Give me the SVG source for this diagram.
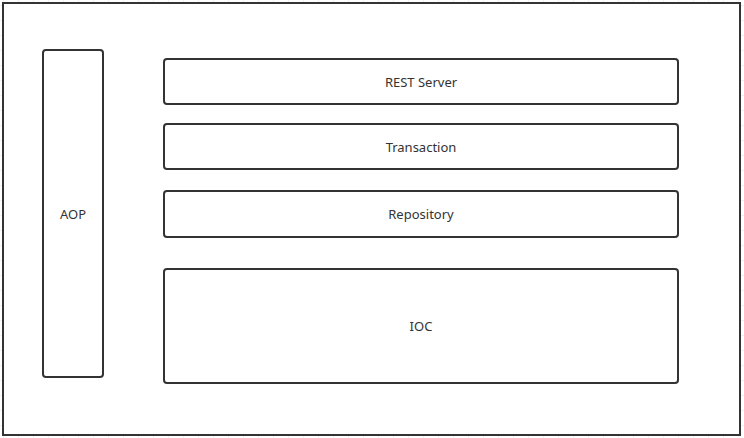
<svg xmlns="http://www.w3.org/2000/svg" width="744" height="438" viewBox="0 0 744 438">
  <defs>
    <pattern id="grid" x="3" y="5" width="15" height="15" patternUnits="userSpaceOnUse">
      <path d="M0 0 H15 M0 0 V15" fill="none" stroke="#e6e6e6" stroke-width="1"/>
    </pattern>
  </defs>
  <style>
    .box { fill: #ffffff; stroke: #333333; stroke-width: 2; }
    .lbl { font-family: "Noto Sans", "Open Sans", "Liberation Sans", sans-serif; font-size: 13px; fill: #333333; text-anchor: middle; dominant-baseline: central; }
  </style>
  <rect x="0" y="0" width="744" height="438" fill="#ffffff"/>
  <rect x="0" y="0" width="744" height="438" fill="url(#grid)"/>
  <g id="container">
    <rect x="3" y="3" width="737" height="432" fill="#ffffff" stroke="#333333" stroke-width="2"/>
  </g>
  <g id="aop">
    <rect class="box" x="43" y="50" width="60" height="327" rx="3" ry="3"/>
    <text class="lbl" x="73" y="214">AOP</text>
  </g>
  <g id="rest-server">
    <rect class="box" x="164" y="59" width="514" height="45" rx="3" ry="3"/>
    <text class="lbl" x="421" y="81.5">REST Server</text>
  </g>
  <g id="transaction">
    <rect class="box" x="164" y="124" width="514" height="45" rx="3" ry="3"/>
    <text class="lbl" x="421" y="146.5">Transaction</text>
  </g>
  <g id="repository">
    <rect class="box" x="164" y="191" width="514" height="46" rx="3" ry="3"/>
    <text class="lbl" x="421" y="214">Repository</text>
  </g>
  <g id="ioc">
    <rect class="box" x="164" y="269" width="514" height="114" rx="3" ry="3"/>
    <text class="lbl" x="421" y="326">IOC</text>
  </g>
  <g id="connectors"></g>
</svg>
